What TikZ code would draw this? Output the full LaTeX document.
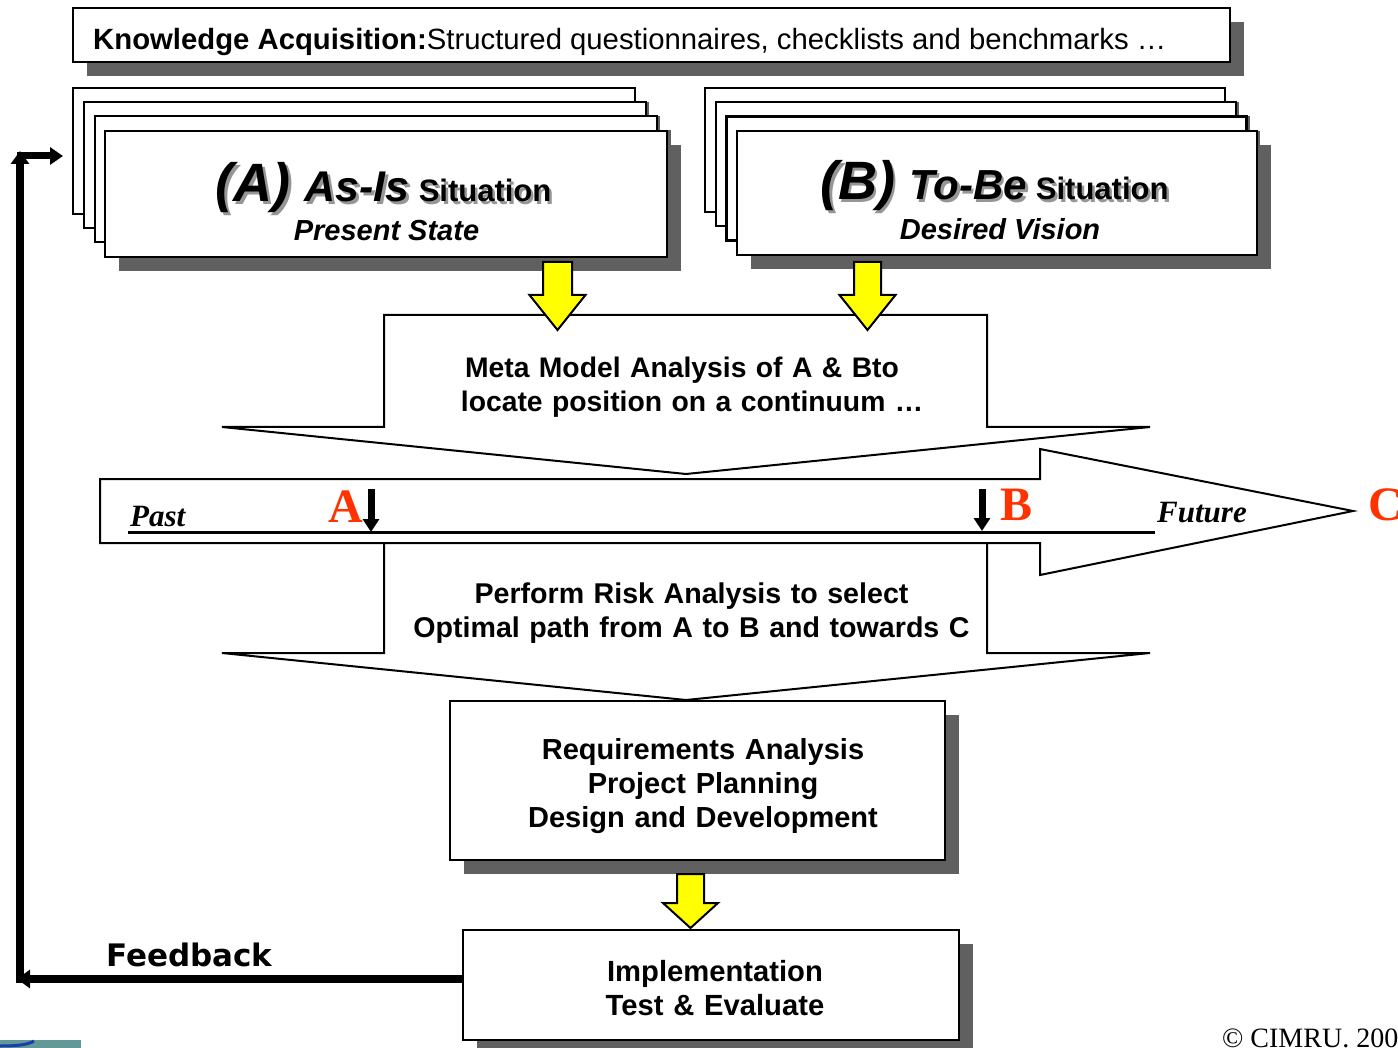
\documentclass[tikz,border=0pt]{standalone}
\usepackage{fontspec}
\setmainfont{Liberation Sans}
\newfontfamily\timesfont{Liberation Serif}
\newfontfamily\verdfont{DejaVu Sans}
\usetikzlibrary{shadows,arrows.meta}

\definecolor{shadowgray}{RGB}{96,96,96}
\definecolor{txtshade}{RGB}{150,150,150}
\definecolor{markred}{RGB}{255,51,0}
\definecolor{arrowyellow}{RGB}{255,255,0}
\definecolor{logoteal}{RGB}{98,152,152}
\definecolor{logoblue}{RGB}{30,60,170}

\newcommand{\fsz}[1]{\fontsize{#1}{#1}\selectfont}

% yellow down arrow: centre x, top y, neck y, tip y, half shaft, half head
\newcommand{\ydown}[6]{%
  \draw[yarrow] ({#1-#5},#2) -- ({#1+#5},#2) -- ({#1+#5},#3) -- ({#1+#6},#3)
    -- (#1,#4) -- ({#1-#6},#3) -- ({#1-#5},#3) -- cycle;}

\newcommand{\asistitle}{{\fsz{54}\bfseries\itshape (A)}\hspace{14pt}{\fsz{43}\bfseries\itshape As-Is}\hspace{9pt}{\fsz{31}\bfseries Situation}}
\newcommand{\tobetitle}{{\fsz{54}\bfseries\itshape (B)}\hspace{14pt}{\fsz{42}\bfseries\itshape To-Be}\hspace{9pt}{\fsz{31}\bfseries Situation}}

\tikzset{
  box/.style={draw=black, line width=2.4pt, fill=white, inner sep=0pt,
    general shadow={fill=shadowgray, shadow xshift=14pt, shadow yshift=-14pt}},
  blockarrow/.style={draw=black, line width=2pt, fill=white, line join=miter},
  yarrow/.style={draw=black, line width=2pt, fill=arrowyellow, line join=miter},
  plain/.style={inner sep=0pt},
  bodytext/.style={inner sep=0pt, font=\fsz{#1}\bfseries, align=center,
    execute at begin node=\setlength{\baselineskip}{34pt}},
  bodytext/.default=29,
  scripttext/.style={inner sep=0pt, font=\timesfont\fsz{31}\bfseries\itshape},
  redmark/.style={inner sep=0pt, font=\timesfont\fsz{48}\bfseries, text=markred},
  markarrow/.style={line width=7pt, -{Triangle[length=13pt,width=16pt]}},
  fbline/.style={line width=8pt, -{Triangle[length=13pt,width=18pt]}},
}

\begin{document}
\begin{tikzpicture}[x=1pt,y=-1pt]
\useasboundingbox (0,0) rectangle (1398,1048);
\fill[white] (0,0) rectangle (1398,1048);

% knowledge acquisition banner
\node[box, minimum width=1157pt, minimum height=54pt] (ka) at (651.5,35) {};
\node[plain, anchor=base west, font=\fsz{29.3}] (katext) at (93,49.5)
  {\textbf{Knowledge Acquisition:}Structured questionnaires, checklists and benchmarks …};

% stack of as-is sheets
\foreach \i/\cx/\cy in {1/354/151, 2/365/165, 3/376/179}
  \node[box, minimum width=562pt, minimum height=126pt] (asis\i) at (\cx,\cy) {};
\node[box, minimum width=562pt, minimum height=126pt] (asis) at (386,194) {};
\node[plain, anchor=base, text=txtshade] (asistitleshade) at (386,204.5) {\asistitle};
\node[plain, anchor=base] (asistitle) at (383.5,202) {\asistitle};
\node[plain, anchor=base, font=\fsz{29}\bfseries\itshape] (asissub) at (386.5,241) {Present State};

% stack of to-be sheets
\foreach \i/\cx/\cy in {1/965/150, 2/975.7/164.3, 3/986.3/178.6}
  \node[box, minimum width=520pt, minimum height=124pt] (tobe\i) at (\cx,\cy) {};
\node[box, minimum width=520pt, minimum height=124pt] (tobe) at (997,193) {};
\node[plain, anchor=base, text=txtshade] (tobetitleshade) at (997,202.5) {\tobetitle};
\node[plain, anchor=base] (tobetitle) at (994.5,200) {\tobetitle};
\node[plain, anchor=base, font=\fsz{29}\bfseries\itshape] (tobesub) at (1000,240) {Desired Vision};

% meta model block arrow
\draw[blockarrow] (384,315) -- (987,315) -- (987,427) -- (1150,427) -- (686,474)
  -- (222,427) -- (384,427) -- cycle;
\node[bodytext=28.3, text width=600pt] (meta) at (682,387)
  {Meta Model Analysis of A \& Bto\\ \hspace*{20pt}locate position on a continuum …};

\ydown{557.5}{262}{295}{330}{14.5}{28}
\ydown{867.5}{262}{295}{330}{13.5}{28}

% time line
\draw[blockarrow] (100,479) -- (1040,479) -- (1040,449) -- (1353,511) -- (1040,575)
  -- (1040,543) -- (100,543) -- cycle;
\coordinate (lineL) at (128,532);
\coordinate (lineR) at (1155,532);
\draw[line width=3pt] (lineL) -- (lineR);
\node[scripttext, anchor=base west] (past) at (130,526) {Past};
\node[scripttext, anchor=base west] (future) at (1157,522) {Future};
\node[redmark, anchor=base west] (markA) at (328,522) {A};
\node[redmark, anchor=base west] (markB) at (1000,520) {B};
\node[redmark, anchor=base west] (markC) at (1368,520) {C};
\coordinate (pa1) at (371,489);
\coordinate (pa2) at (371,532);
\coordinate (pb1) at (982,489);
\coordinate (pb2) at (982,531);
\draw[markarrow] (pa1) -- (pa2);
\draw[markarrow] (pb1) -- (pb2);

% risk analysis block arrow
\draw[blockarrow] (384,543) -- (987,543) -- (987,653) -- (1150,653) -- (686,700)
  -- (222,653) -- (384,653) -- cycle;
\node[bodytext=28.6, text width=700pt] (risk) at (691.5,613.5)
  {Perform Risk Analysis to select\\ Optimal path from A to B and towards C};

% requirements / planning / design
\node[box, minimum width=495pt, minimum height=159pt] (req) at (697.5,780.5) {};
\node[bodytext=29, text width=480pt] (reqtext) at (703,786)
  {Requirements Analysis\\ Project Planning\\ Design and Development};

\ydown{690.5}{874}{903}{928}{13.5}{27.5}

% implementation
\node[box, minimum width=496pt, minimum height=110pt] (impl) at (711,985) {};
\node[bodytext=29.2, text width=480pt] (impltext) at (715,988)
  {Implementation\\ Test \& Evaluate};

% feedback loop
\coordinate (fbcorner) at (17,979);
\coordinate (fbbottom) at (20,983);
\coordinate (fbtop) at (20,151);
\coordinate (fbstart) at (17,156);
\coordinate (fbend) at (63,156);
\draw[fbline] (impl.west |- fbcorner) -- (fbcorner);
\draw[fbline, line width=8pt] (fbbottom) -- (fbtop);
\draw[fbline, line width=7pt, -{Triangle[length=13pt,width=17pt]}] (fbstart) -- (fbend);
\node[plain, anchor=base west, font=\verdfont\fsz{31}\bfseries] (feedback) at (106,966) {Feedback};

% logo fragment and copyright
\fill[logoteal] (0,1040) rectangle (81,1048);
\draw[logoblue, line width=3pt] (0,1046) .. controls (15,1046) and (28,1045) .. (34,1041);
\node[plain, anchor=base west, font=\timesfont\fsz{28}] (copy) at (1222,1047) {© CIMRU. 200};
\end{tikzpicture}
\end{document}
